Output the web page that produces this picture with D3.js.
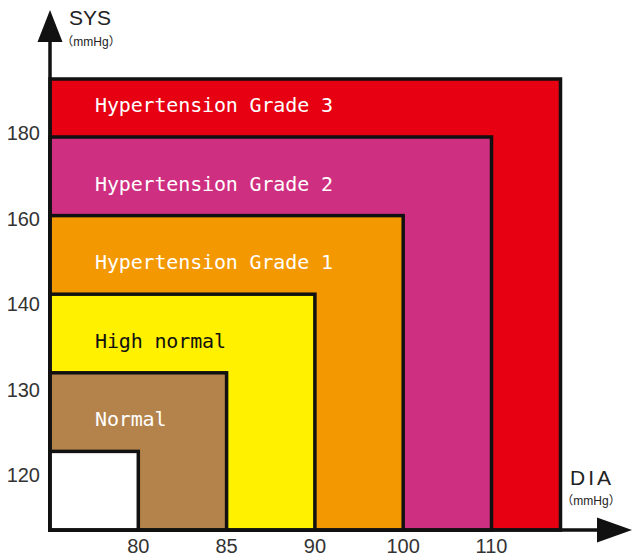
<!DOCTYPE html>
<html>
<head>
<meta charset="utf-8">
<script src="https://cdn.jsdelivr.net/npm/d3@7"></script>
<style>
  html, body { margin: 0; padding: 0; background: #fff; }
  svg { display: block; }
</style>
</head>
<body>
<svg id="chart" width="633" height="557"></svg>
<script>
// Blood pressure classification zones (upper bounds, mmHg)
const sysTicks = [120, 130, 140, 160, 180];
const diaTicks = [80, 85, 90, 100, 110];
const sysExtent = [110, 190];
const diaExtent = [70, 115];

const zoneNames = ["", "Normal", "High normal", "Hypertension Grade 1", "Hypertension Grade 2", "Hypertension Grade 3"];
const zoneSysUpper = [120, 130, 140, 160, 180, 190];
const zoneDiaUpper = [80, 85, 90, 100, 110, 115];
const zoneColors = ["#ffffff", "#b4834b", "#fff100", "#f39800", "#cf2f80", "#e60012"];
const zoneTextColors = ["#fff", "#fff", "#111", "#fff", "#fff", "#fff"];

const svg = d3.select("#chart");

// Evenly spaced class boundaries, with a shorter outermost band
const originX = 50, stepX = 88.3, lastX = 69;
const originY = 530, stepY = 78.6, lastY = 58;

const x = d3.scaleLinear()
  .domain([diaExtent[0], ...diaTicks, diaExtent[1]])
  .range([...d3.range(diaTicks.length + 1).map(i => originX + i * stepX),
          originX + diaTicks.length * stepX + lastX]);

const y = d3.scaleLinear()
  .domain([sysExtent[0], ...sysTicks, sysExtent[1]])
  .range([...d3.range(sysTicks.length + 1).map(i => originY - i * stepY),
          originY - sysTicks.length * stepY - lastY]);

// Systolic tick labels sit on their own evenly spaced grid
const yLabel = d3.scalePoint().domain(sysTicks).range([475, 133]);

const zones = zoneNames.map((name, i) => ({
  name, sys: zoneSysUpper[i], dia: zoneDiaUpper[i],
  fill: zoneColors[i], text: zoneTextColors[i],
  lowerSys: i > 0 ? zoneSysUpper[i - 1] : sysExtent[0]
}));

// Nested zones, largest first so each smaller one sits on top
svg.append("g").selectAll("rect")
  .data(zones.slice().reverse())
  .join("rect")
  .attr("x", x(diaExtent[0]))
  .attr("y", d => y(d.sys))
  .attr("width", d => x(d.dia) - x(diaExtent[0]))
  .attr("height", d => y(sysExtent[0]) - y(d.sys))
  .attr("fill", d => d.fill)
  .attr("stroke", "#111")
  .attr("stroke-width", 3.5);

// Zone names
svg.append("g").selectAll("text")
  .data(zones.filter(d => d.name))
  .join("text")
  .attr("x", 95)
  .attr("y", d => y(d.lowerSys) - 25)
  .attr("fill", d => d.text)
  .attr("font-family", "'DejaVu Sans Mono', monospace")
  .attr("font-size", 20)
  .attr("letter-spacing", -0.15)
  .text(d => d.name);

// Axes with arrowheads
const axisG = svg.append("g").attr("fill", "#111").attr("stroke", "#111");
axisG.append("line")
  .attr("x1", x(diaExtent[0])).attr("x2", x(diaExtent[0]))
  .attr("y1", y(sysExtent[0]) + 1.75).attr("y2", 40)
  .attr("stroke-width", 3.5);
axisG.append("path")
  .attr("stroke", "none")
  .attr("d", d3.line()([[x(diaExtent[0]), 10], [x(diaExtent[0]) - 12.5, 42], [x(diaExtent[0]) + 12.5, 42]]) + "Z");
axisG.append("line")
  .attr("x1", x(diaExtent[0]) - 1.75).attr("x2", 599)
  .attr("y1", y(sysExtent[0])).attr("y2", y(sysExtent[0]))
  .attr("stroke-width", 3.5);
axisG.append("path")
  .attr("stroke", "none")
  .attr("d", d3.line()([[632, y(sysExtent[0])], [597, y(sysExtent[0]) - 12.5], [597, y(sysExtent[0]) + 12.5]]) + "Z");

// Tick labels
svg.append("g").selectAll("text")
  .data(sysTicks)
  .join("text")
  .attr("x", 40)
  .attr("y", d => yLabel(d))
  .attr("dy", "0.36em")
  .attr("text-anchor", "end")
  .attr("fill", "#333")
  .attr("font-family", "'Liberation Sans', Arial, sans-serif")
  .attr("font-size", 20)
  .text(d => d);

svg.append("g").selectAll("text")
  .data(diaTicks)
  .join("text")
  .attr("x", d => x(d))
  .attr("y", 553)
  .attr("text-anchor", "middle")
  .attr("fill", "#333")
  .attr("font-family", "'Liberation Sans', Arial, sans-serif")
  .attr("font-size", 20)
  .text(d => d);

// Axis titles
const titleFont = "'Liberation Sans', Arial, 'Noto Sans CJK SC', sans-serif";
svg.append("text")
  .attr("x", 90).attr("y", 25)
  .attr("text-anchor", "middle")
  .attr("fill", "#222")
  .attr("font-family", titleFont)
  .attr("font-size", 21)
  .text("SYS");
svg.append("text")
  .attr("x", 91).attr("y", 46)
  .attr("text-anchor", "middle")
  .attr("fill", "#222")
  .attr("font-family", titleFont)
  .attr("font-size", 12)
  .text("（mmHg）");

svg.append("text")
  .attr("x", 592).attr("y", 485)
  .attr("text-anchor", "middle")
  .attr("fill", "#222")
  .attr("font-family", titleFont)
  .attr("font-size", 21)
  .attr("letter-spacing", 3)
  .text("DIA");
svg.append("text")
  .attr("x", 591).attr("y", 505)
  .attr("text-anchor", "middle")
  .attr("fill", "#222")
  .attr("font-family", titleFont)
  .attr("font-size", 12)
  .text("（mmHg）");
</script>
</body>
</html>
